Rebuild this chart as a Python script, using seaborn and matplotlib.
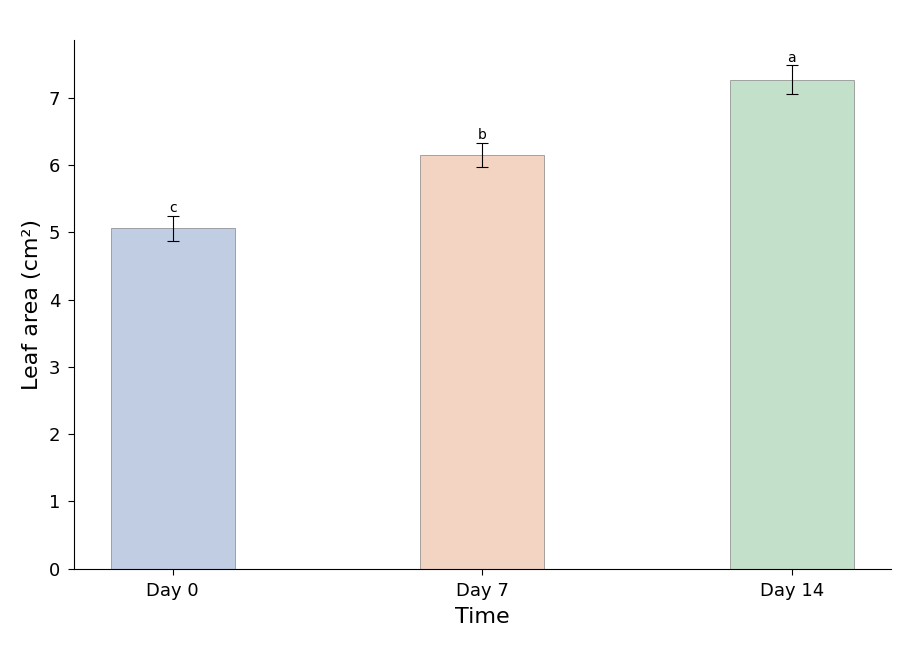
import matplotlib
matplotlib.use("Agg")
import matplotlib.pyplot as plt
import matplotlib.colors as mcolors
import seaborn as sns
import pandas as pd

categories = ["Day 0", "Day 7", "Day 14"]
means = [5.06, 6.15, 7.27]
errors = [0.19, 0.18, 0.21]
letters = ["c", "b", "a"]

plt.rcParams['font.family'] = ['DejaVu Sans']

df = pd.DataFrame({"Time": categories, "Leaf area": means})
fig, ax = plt.subplots(figsize=(9.1, 6.5), dpi=100)
palette = [mcolors.to_rgba(c, 0.35) for c in sns.color_palette("deep", 3)]
sns.barplot(data=df, x="Time", y="Leaf area", hue="Time", palette=palette,
            saturation=1, width=0.4, edgecolor="gray", linewidth=0.6,
            errorbar=None, legend=False, ax=ax)
for p, c in zip(ax.patches, palette):
    p.set_facecolor(c)
    p.set_edgecolor((0.5, 0.5, 0.5, 0.8))
ax.errorbar(range(len(categories)), means, yerr=errors, fmt="none",
            ecolor="black", elinewidth=0.8, capsize=4, capthick=0.8)
for i, (m, e, l) in enumerate(zip(means, errors, letters)):
    ax.text(i, m + e + 0.01, l, ha="center", va="bottom", fontsize=10)

ax.set_xlabel("Time", fontsize=16, labelpad=5)
ax.set_ylabel("Leaf area (cm²)", fontsize=16, labelpad=4.5)
ax.tick_params(axis="both", labelsize=13, length=4.2, pad=5.5)
sns.despine(ax=ax)
fig.subplots_adjust(left=0.081, right=0.979, top=0.938, bottom=0.125)
fig.savefig("out.png", dpi=100)
